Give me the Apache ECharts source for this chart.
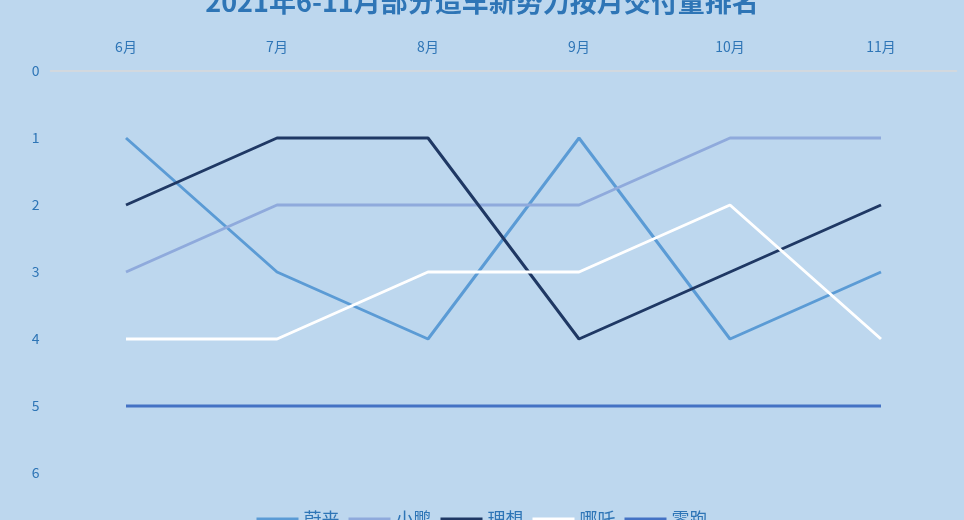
<!DOCTYPE html>
<html><head><meta charset="utf-8">
<script src="https://cdn.jsdelivr.net/npm/echarts@6/dist/echarts.min.js"></script>
<style>html,body{margin:0;padding:0;background:#BDD7EE;}#c{width:964px;height:520px;}</style>
</head><body><div id="c"></div>
<script>
const months = ['6月','7月','8月','9月','10月','11月'];
const nio = [1,3,4,1,4,3];
const xpeng = [3,2,2,2,1,1];
const li = [2,1,1,4,3,2];
const neta = [4,4,3,3,2,4];
const leap = [5,5,5,5,5,5];
const names = ['蔚来','小鹏','理想','哪吒','零跑'];
const colors = ['#5B9BD5','#8FAADC','#1F3864','#FFFFFF','#4472C4'];
const datas = [nio,xpeng,li,neta,leap];
const chart = echarts.init(document.getElementById('c'));
chart.setOption({
  backgroundColor:'#BDD7EE',
  title:{text:'2021年6-11月部分造车新势力按月交付量排名',left:'center',top:-17,
    textStyle:{fontSize:27,fontWeight:'bold',color:'#2E75B6',fontFamily:'Noto Sans CJK SC'}},
  legend:{data:names,top:505,left:'center',itemWidth:42,itemHeight:3,itemGap:9,icon:'rect',
    textStyle:{color:'#2E75B6',fontSize:18,fontFamily:'Noto Sans CJK SC'}},
  grid:{left:50.5,right:7.5,top:71,bottom:47},
  xAxis:{type:'category',data:months,position:'top',boundaryGap:true,
    axisLine:{show:true,lineStyle:{color:'#D9D9D9',width:1.5}},axisTick:{show:false},
    axisLabel:{color:'#2E75B6',fontSize:14,margin:17,fontFamily:'Noto Sans CJK SC'},splitLine:{show:false}},
  yAxis:{type:'value',inverse:true,min:0,max:6,interval:1,
    axisLine:{show:false},axisTick:{show:false},splitLine:{show:false},
    axisLabel:{color:'#2E75B6',fontSize:14,margin:11,align:'right',fontFamily:'Noto Sans CJK SC'}},
  series:names.map((n,i)=>({name:n,type:'line',data:datas[i],symbol:'none',
    lineStyle:{color:colors[i],width:3},itemStyle:{color:colors[i]},z:i===4?1:2}))
});
</script></body></html>
